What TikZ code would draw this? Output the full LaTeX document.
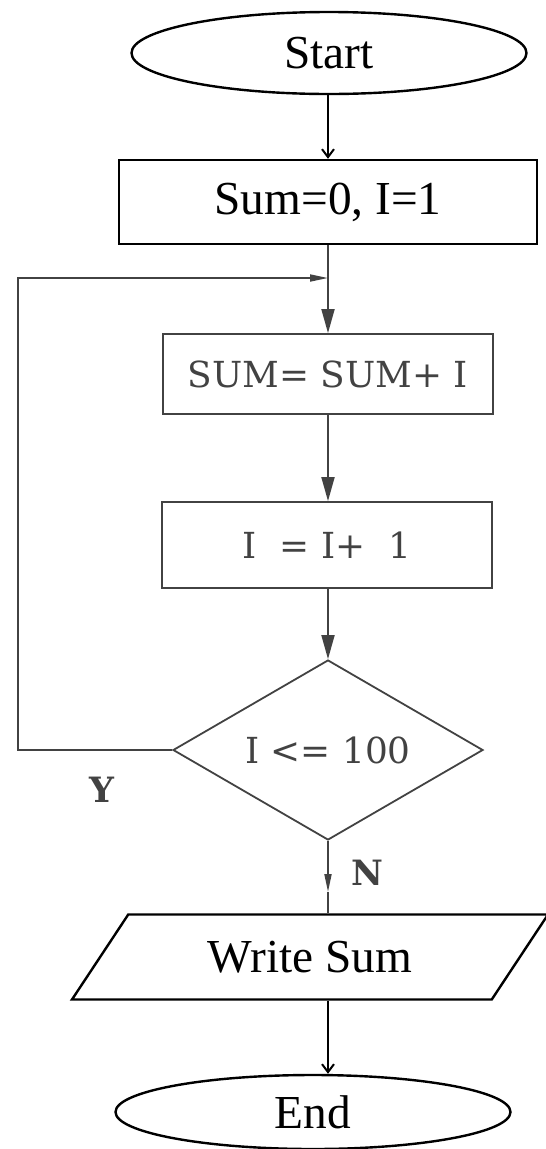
\documentclass[tikz,border=0pt]{standalone}
\usepackage{fontspec}
\setmainfont{Liberation Serif}
\newfontfamily\centfont{DejaVu Serif}
\usepackage{xcolor}
\usetikzlibrary{shapes.geometric,arrows.meta,positioning}
\definecolor{scan}{HTML}{424242}

\begin{document}
\begin{tikzpicture}[x=1bp,y=-1bp,
  term/.style={ellipse, draw, line width=2.4bp, minimum width=395bp, inner sep=0pt, font=\fontsize{47.5}{47.5}\selectfont},
  initbox/.style={rectangle, draw, line width=2.4bp, minimum width=418bp, minimum height=84bp, font=\fontsize{47.5}{47.5}\selectfont},
  calcbox/.style={rectangle, draw=scan, line width=1.8bp, minimum width=330bp, text=scan, font=\centfont\fontsize{36}{36}\selectfont},
  testbox/.style={diamond, draw=scan, line width=1.8bp, aspect=1.72, minimum width=310bp, minimum height=180bp, inner sep=0pt, text=scan, font=\centfont\fontsize{36}{36}\selectfont},
  iobox/.style={trapezium, trapezium left angle=56.5, trapezium right angle=123.5, draw, line width=2.4bp, inner ysep=26.5bp, inner xsep=79.5bp, font=\fontsize{47.5}{47.5}\selectfont},
  lab/.style={text=scan, font=\centfont\bfseries\fontsize{35}{35}\selectfont},
  thinarrow/.style={-{Straight Barb[length=8bp,width=12bp]}, line width=2bp},
  grayarrow/.style={-{Triangle[length=24bp,width=13bp]}, draw=scan, line width=1.8bp},
  loopline/.style={-{Triangle[length=18bp,width=7bp]}, draw=scan, line width=1.8bp},
  grayline/.style={draw=scan, line width=1.8bp}
]
\useasboundingbox (0,0) rectangle (546,1149);

% Terminals and steps
\node[term, minimum height=82bp] (start) at (329,53) {Start};
\node[initbox] (init) at (328,202) {Sum=0, I=1};
\node[calcbox, minimum height=80bp] (sum) at (328,374) {SUM= SUM+ I};
\node[calcbox, minimum height=86bp] (inc) at (327,545) {I \ = I+ \ 1};
\node[testbox] (test) at (328,750) {I <= 100};
\node[iobox] (write) at (310,957) {Write Sum};
\node[term, minimum height=74bp] (final) at (313,1112) {End};

% Labels
\node[lab] (ylab) at (102,790) {Y};
\node[lab] (nlab) at (367,873) {N};

% Helper points
\coordinate (join) at (328,278);
\coordinate (corner) at (18,278);
\coordinate (nmid) at (328,892);

% Connections
\draw[thinarrow] (start.south -| init) -- (init);
\draw[grayline] (init.south) -- (join);
\draw[grayarrow] (join) -- (sum);
\draw[grayarrow] (sum.south) -- (inc.north -| sum);
\draw[grayarrow] (inc.south -| test) -- (test);
\draw[loopline] (test.west) -| (corner) -- (join);
\draw[loopline] (test.south) -- (nmid);
\draw[grayline] (nmid) -- (write.north -| nmid);
\draw[thinarrow] (write.south -| test) -- (final.north -| test);
\end{tikzpicture}
\end{document}
